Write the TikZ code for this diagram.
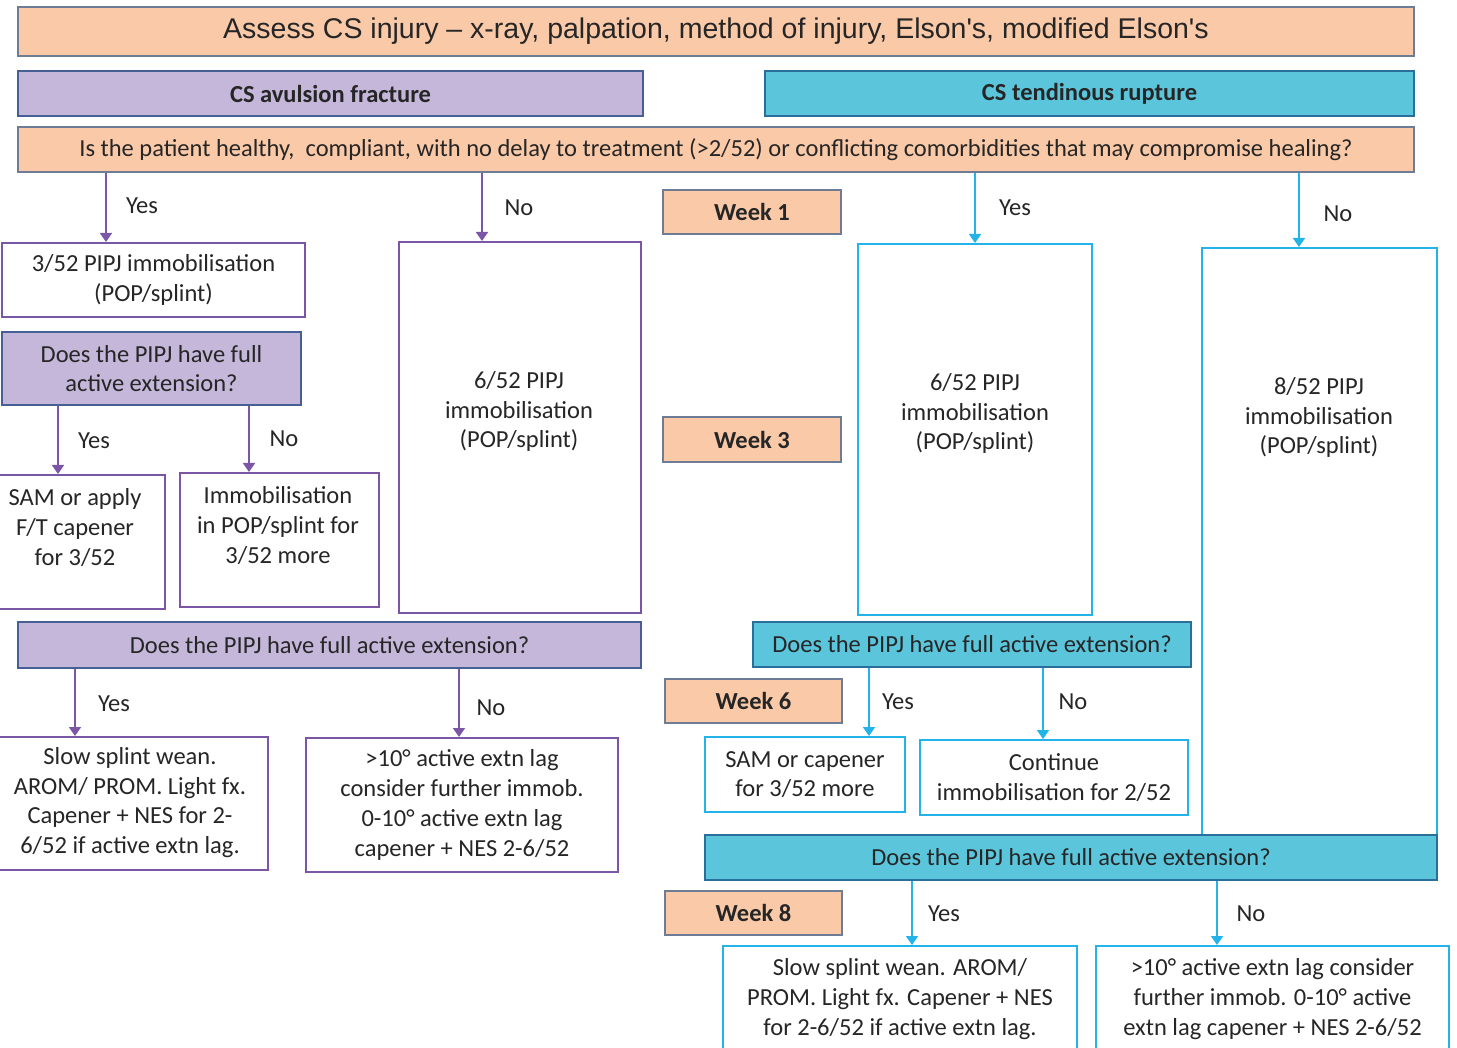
\documentclass[tikz,border=0pt]{standalone}
\usepackage{fontspec}
\setmainfont{Carlito}
\newfontfamily\arialf{Liberation Sans}
\usetikzlibrary{arrows.meta}
\definecolor{peach}{HTML}{FAC9A8}
\definecolor{lav}{HTML}{C4B7DA}
\definecolor{cyanf}{HTML}{5BC5DC}
\definecolor{peachb}{HTML}{6E7C96}
\definecolor{lavb}{HTML}{465F94}
\definecolor{cyanb}{HTML}{2A6F9C}
\definecolor{purpb}{HTML}{7B55A6}
\definecolor{skyb}{HTML}{22B3E8}
\definecolor{txt}{HTML}{262626}
\begin{document}
\begin{tikzpicture}[x=1pt,y=-1pt,
  font=\fontsize{24.5}{29.7}\selectfont, text=txt,
  bx/.style={draw, line width=2pt, inner sep=0pt, align=center},
  peachbox/.style={bx, draw=peachb, fill=peach},
  lavbox/.style={bx, draw=lavb, fill=lav},
  cyanbox/.style={bx, draw=cyanb, fill=cyanf},
  pwhite/.style={bx, draw=purpb, fill=white},
  cwhite/.style={bx, draw=skyb, fill=white},
  wk/.style={peachbox, font=\fontsize{24.5}{29}\selectfont\bfseries},
  tx/.style={inner sep=0pt, align=center},
  lbl/.style={inner sep=0pt},
  parr/.style={draw=purpb, line width=1.7pt, -{Triangle[width=12pt,length=9pt]}},
  carr/.style={draw=skyb, line width=1.7pt, -{Triangle[width=12pt,length=9pt]}}]
\clip (0,0) rectangle (1457,1048);
\fill[white] (0,0) rectangle (1457,1048);

% top boxes
\node[peachbox, minimum width=1396, minimum height=49, font=\arialf\fontsize{28.5}{32}\selectfont] (title) at (716,31.5)
  {Assess CS injury – x-ray, palpation, method of injury, Elson's, modified Elson's};
\node[lavbox, minimum width=625, minimum height=45, font=\fontsize{24.5}{29}\selectfont\bfseries] (avul) at (330.5,93.5) {CS avulsion fracture};
\node[cyanbox, minimum width=649, minimum height=45, font=\fontsize{24.5}{29}\selectfont\bfseries] (tend) at (1089.5,93.5) {CS tendinous rupture};
\node[peachbox, minimum width=1396, minimum height=45] (q) at (716,149.5)
  {Is the patient healthy,\ \ compliant, with no delay to treatment (>2/52) or conflicting comorbidities that may compromise healing?};

% week boxes
\node[wk, minimum width=178, minimum height=44] (w1) at (752,212) {Week 1};
\node[wk, minimum width=178, minimum height=45] (w3) at (752,439.5) {Week 3};
\node[wk, minimum width=177, minimum height=44] (w6) at (753.5,701) {Week 6};
\node[wk, minimum width=177, minimum height=44] (w8) at (753.5,913) {Week 8};

% avulsion branch
\node[pwhite, minimum width=303, minimum height=74] (b352) at (153.5,280) {3/52 PIPJ immobilisation\\(POP/splint)};
\node[lavbox, minimum width=299, minimum height=73] (qa) at (151.5,368.5) {Does the PIPJ have full\\active extension?};
\node[pwhite, minimum width=166, minimum height=134] (sam1) at (82,542) {};
\node[tx] (sam1t) at (75,527.5) {SAM or apply\\F/T capener\\for 3/52};
\node[pwhite, minimum width=199, minimum height=134] (imm1) at (279.5,540) {};
\node[tx] (imm1t) at (278,525.5) {Immobilisation\\in POP/splint for\\3/52 more};
\node[pwhite, minimum width=242, minimum height=371] (big1) at (520,427.5) {};
\node[tx] (big1t) at (519,411.5) {6/52 PIPJ\\immobilisation\\(POP/splint)};
\node[lavbox, minimum width=623, minimum height=46] (qb) at (329.5,645) {Does the PIPJ have full active extension?};
\node[pwhite, minimum width=269, minimum height=133] (slow1) at (133.5,803.5) {};
\node[tx] (slow1t) at (130,802.5) {Slow splint wean.\\AROM/ PROM. Light fx.\\Capener + NES for 2-\\6/52 if active extn lag.};
\node[pwhite, minimum width=312, minimum height=134] (lag1) at (462,805) {>10° active extn lag\\consider further immob.\\0-10° active extn lag\\capener + NES 2-6/52};

% tendinous branch
\node[cwhite, minimum width=234, minimum height=371] (big2) at (975,429.5) {};
\node[tx] (big2t) at (975,413.5) {6/52 PIPJ\\immobilisation\\(POP/splint)};
\node[cwhite, minimum width=235, minimum height=587] (big3) at (1319.5,541.5) {};
\node[tx] (big3t) at (1319,417.5) {8/52 PIPJ\\immobilisation\\(POP/splint)};
\node[cyanbox, minimum width=438, minimum height=45] (qc) at (972,644.5) {Does the PIPJ have full active extension?};
\node[cwhite, minimum width=200, minimum height=75] (sam2) at (805,774.5) {SAM or capener\\for 3/52 more};
\node[cwhite, minimum width=268, minimum height=75] (cont) at (1054,777.5) {Continue\\immobilisation for 2/52};
\node[cyanbox, minimum width=732, minimum height=45] (qd) at (1071,857.5) {Does the PIPJ have full active extension?};
\node[cwhite, minimum width=354, minimum height=106] (slow2) at (900,999) {Slow splint wean. AROM/\\PROM. Light fx. Capener + NES\\for 2-6/52 if active extn lag.};
\node[cwhite, minimum width=353, minimum height=106] (lag2) at (1272.5,999) {>10° active extn lag consider\\further immob. 0-10° active\\extn lag capener + NES 2-6/52};

% arrow x positions
\coordinate (xa) at (106,0);
\coordinate (xb) at (482,0);
\coordinate (xc) at (975,0);
\coordinate (xd) at (1299,0);
\coordinate (xe) at (58,0);
\coordinate (xf) at (249,0);
\coordinate (xg) at (75,0);
\coordinate (xh) at (459,0);
\coordinate (xi) at (869,0);
\coordinate (xj) at (1043,0);
\coordinate (xk) at (912,0);
\coordinate (xl) at (1217,0);

\draw[parr] (q.south -| xa) -- (b352.north -| xa);
\draw[parr] (q.south -| xb) -- (big1.north -| xb);
\draw[carr] (q.south -| xc) -- (big2.north -| xc);
\draw[carr] (q.south -| xd) -- (big3.north -| xd);
\draw[parr] (qa.south -| xe) -- (sam1.north -| xe);
\draw[parr] (qa.south -| xf) -- (imm1.north -| xf);
\draw[parr] (qb.south -| xg) -- (slow1.north -| xg);
\draw[parr] (qb.south -| xh) -- (lag1.north -| xh);
\draw[carr] (qc.south -| xi) -- (sam2.north -| xi);
\draw[carr] (qc.south -| xj) -- (cont.north -| xj);
\draw[carr] (qd.south -| xk) -- (slow2.north -| xk);
\draw[carr] (qd.south -| xl) -- (lag2.north -| xl);

% labels
\node[lbl] (l1) at (142,206) {Yes};
\node[lbl] (l2) at (519,208) {No};
\node[lbl] (l3) at (1015,208) {Yes};
\node[lbl] (l4) at (1338,214) {No};
\node[lbl] (l5) at (94,441) {Yes};
\node[lbl] (l6) at (284,439) {No};
\node[lbl] (l7) at (114,704) {Yes};
\node[lbl] (l8) at (491,708) {No};
\node[lbl] (l9) at (898,702) {Yes};
\node[lbl] (l10) at (1073,702) {No};
\node[lbl] (l11) at (944,914) {Yes};
\node[lbl] (l12) at (1251,914) {No};
\end{tikzpicture}
\end{document}
